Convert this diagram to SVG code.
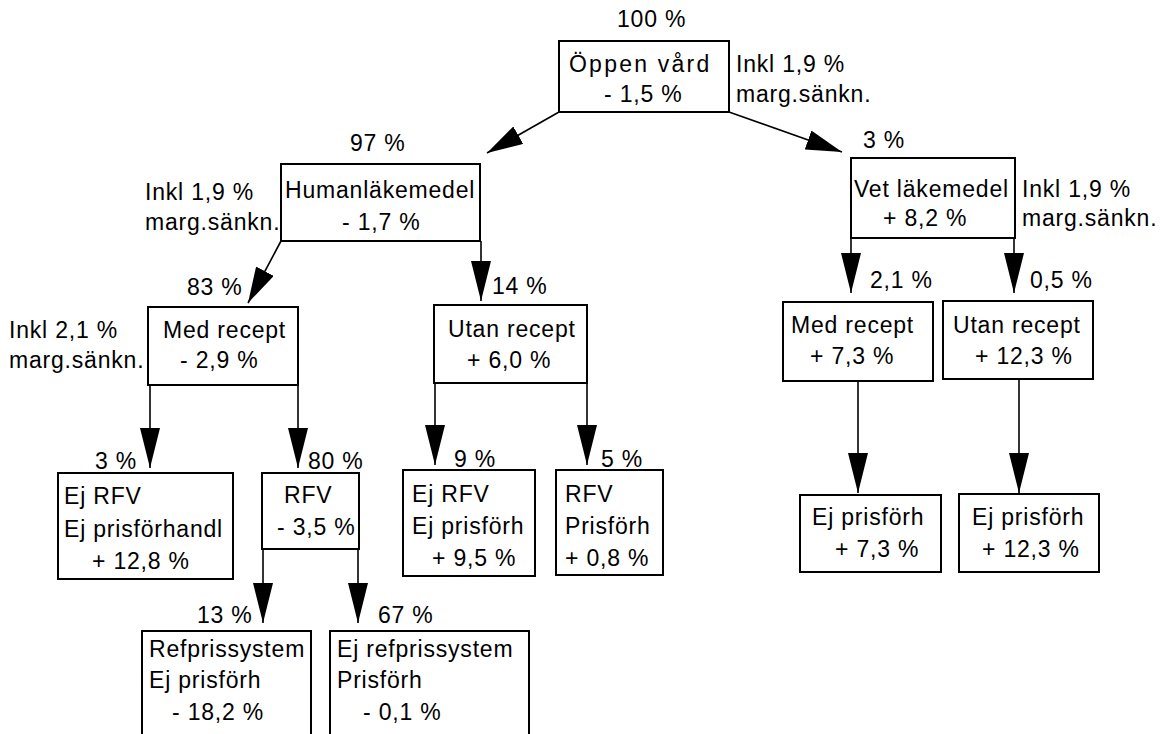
<svg xmlns="http://www.w3.org/2000/svg" width="1164" height="734" viewBox="0 0 1164 734">
<defs>
<style>
text{font-family:"Liberation Sans",Arial,Helvetica,sans-serif;font-size:23px;letter-spacing:0.8px;fill:#000}
.box{fill:#fff;stroke:#000;stroke-width:2}
.con{stroke:#000;stroke-width:1.6;fill:none}
.v{marker-end:url(#ah)}
.d{marker-end:url(#ahd)}
</style>
<marker id="ah" markerUnits="userSpaceOnUse" markerWidth="40" markerHeight="20" refX="40" refY="10" orient="auto" viewBox="0 0 40 20"><path d="M0,0 L40,10 L0,20 Z" fill="#000"/></marker>
<marker id="ahd" markerUnits="userSpaceOnUse" markerWidth="36" markerHeight="20" refX="36" refY="10" orient="auto" viewBox="0 0 36 20"><path d="M0,0 L36,10 L0,20 Z" fill="#000"/></marker>
</defs>
<rect width="1164" height="734" fill="#fff"/>
<g id="connectors">
<line class="con d" x1="559" y1="112" x2="487" y2="153"/>
<line class="con d" x1="729" y1="112" x2="842" y2="152"/>
<line class="con d" x1="281" y1="241" x2="248" y2="303"/>
<line class="con v" x1="481" y1="241" x2="481" y2="301"/>
<line class="con v" x1="851" y1="238" x2="851" y2="293"/>
<line class="con v" x1="1014" y1="238" x2="1014" y2="293"/>
<line class="con v" x1="150" y1="385" x2="150" y2="468"/>
<line class="con v" x1="298" y1="385" x2="298" y2="468"/>
<line class="con v" x1="435" y1="383" x2="435" y2="465"/>
<line class="con v" x1="587" y1="383" x2="587" y2="465"/>
<line class="con v" x1="858" y1="381" x2="858" y2="493"/>
<line class="con v" x1="1019" y1="379" x2="1019" y2="493"/>
<line class="con v" x1="263" y1="549" x2="263" y2="623"/>
<line class="con v" x1="358" y1="549" x2="358" y2="623"/>
</g>
<g id="oppen">
<rect class="box" x="559" y="41" width="170" height="71"/>
<text x="617" y="27">100 %</text>
<text x="569" y="72" textLength="141" lengthAdjust="spacing">Öppen vård</text>
<text x="604" y="102">- 1,5 %</text>
<text x="736" y="72">Inkl 1,9 %</text>
<text x="736" y="102">marg.sänkn.</text>
</g>
<g id="human">
<rect class="box" x="281" y="164" width="199" height="77"/>
<text x="350" y="151">97 %</text>
<text x="285" y="198">Humanläkemedel</text>
<text x="342" y="230">- 1,7 %</text>
<text x="145" y="200">Inkl 1,9 %</text>
<text x="145" y="230">marg.sänkn.</text>
</g>
<g id="vet">
<rect class="box" x="851" y="158" width="164" height="80"/>
<text x="863" y="148">3 %</text>
<text x="854" y="197">Vet läkemedel</text>
<text x="883" y="226">+ 8,2 %</text>
<text x="1022" y="197">Inkl 1,9 %</text>
<text x="1022" y="226">marg.sänkn.</text>
</g>
<g id="med">
<rect class="box" x="148" y="307" width="150" height="78"/>
<text x="187" y="295">83 %</text>
<text x="163" y="338">Med recept</text>
<text x="180" y="368">- 2,9 %</text>
<text x="9" y="338">Inkl 2,1 %</text>
<text x="9" y="368">marg.sänkn.</text>
</g>
<g id="utan">
<rect class="box" x="434" y="305" width="153" height="78"/>
<text x="492" y="294">14 %</text>
<text x="448" y="337">Utan recept</text>
<text x="467" y="368">+ 6,0 %</text>
</g>
<g id="vetmed">
<rect class="box" x="783" y="302" width="150" height="79"/>
<text x="870" y="288">2,1 %</text>
<text x="791" y="333">Med recept</text>
<text x="810" y="364">+ 7,3 %</text>
</g>
<g id="vetutan">
<rect class="box" x="943" y="301" width="150" height="78"/>
<text x="1030" y="288">0,5 %</text>
<text x="953" y="333">Utan recept</text>
<text x="975" y="364">+ 12,3 %</text>
</g>
<g id="ejrfv1">
<rect class="box" x="58" y="473" width="175" height="106"/>
<text x="95" y="469">3 %</text>
<text x="64" y="504">Ej RFV</text>
<text x="64" y="537">Ej prisförhandl</text>
<text x="92" y="569">+ 12,8 %</text>
</g>
<g id="rfv1">
<rect class="box" x="262" y="473" width="97" height="76"/>
<text x="308" y="469">80 %</text>
<text x="284" y="503">RFV</text>
<text x="277" y="535">- 3,5 %</text>
</g>
<g id="ejrfv2">
<rect class="box" x="403" y="470" width="132" height="106"/>
<text x="454" y="467">9 %</text>
<text x="412" y="502">Ej RFV</text>
<text x="412" y="534">Ej prisförh</text>
<text x="432" y="566">+ 9,5 %</text>
</g>
<g id="rfv2">
<rect class="box" x="556" y="470" width="107" height="105"/>
<text x="601" y="467">5 %</text>
<text x="565" y="502">RFV</text>
<text x="565" y="534">Prisförh</text>
<text x="565" y="566">+ 0,8 %</text>
</g>
<g id="vetmedej">
<rect class="box" x="800" y="495" width="141" height="77"/>
<text x="812" y="525">Ej prisförh</text>
<text x="835" y="557">+ 7,3 %</text>
</g>
<g id="vetutanej">
<rect class="box" x="959" y="494" width="140" height="78"/>
<text x="972" y="525">Ej prisförh</text>
<text x="982" y="557">+ 12,3 %</text>
</g>
<g id="refpris">
<rect class="box" x="142" y="631" width="169" height="115"/>
<text x="197" y="623">13 %</text>
<text x="149" y="657">Refprissystem</text>
<text x="149" y="688">Ej prisförh</text>
<text x="172" y="720">- 18,2 %</text>
</g>
<g id="ejrefpris">
<rect class="box" x="330" y="631" width="199" height="115"/>
<text x="378" y="623">67 %</text>
<text x="337" y="657">Ej refprissystem</text>
<text x="337" y="688">Prisförh</text>
<text x="363" y="720">- 0,1 %</text>
</g>
</svg>
